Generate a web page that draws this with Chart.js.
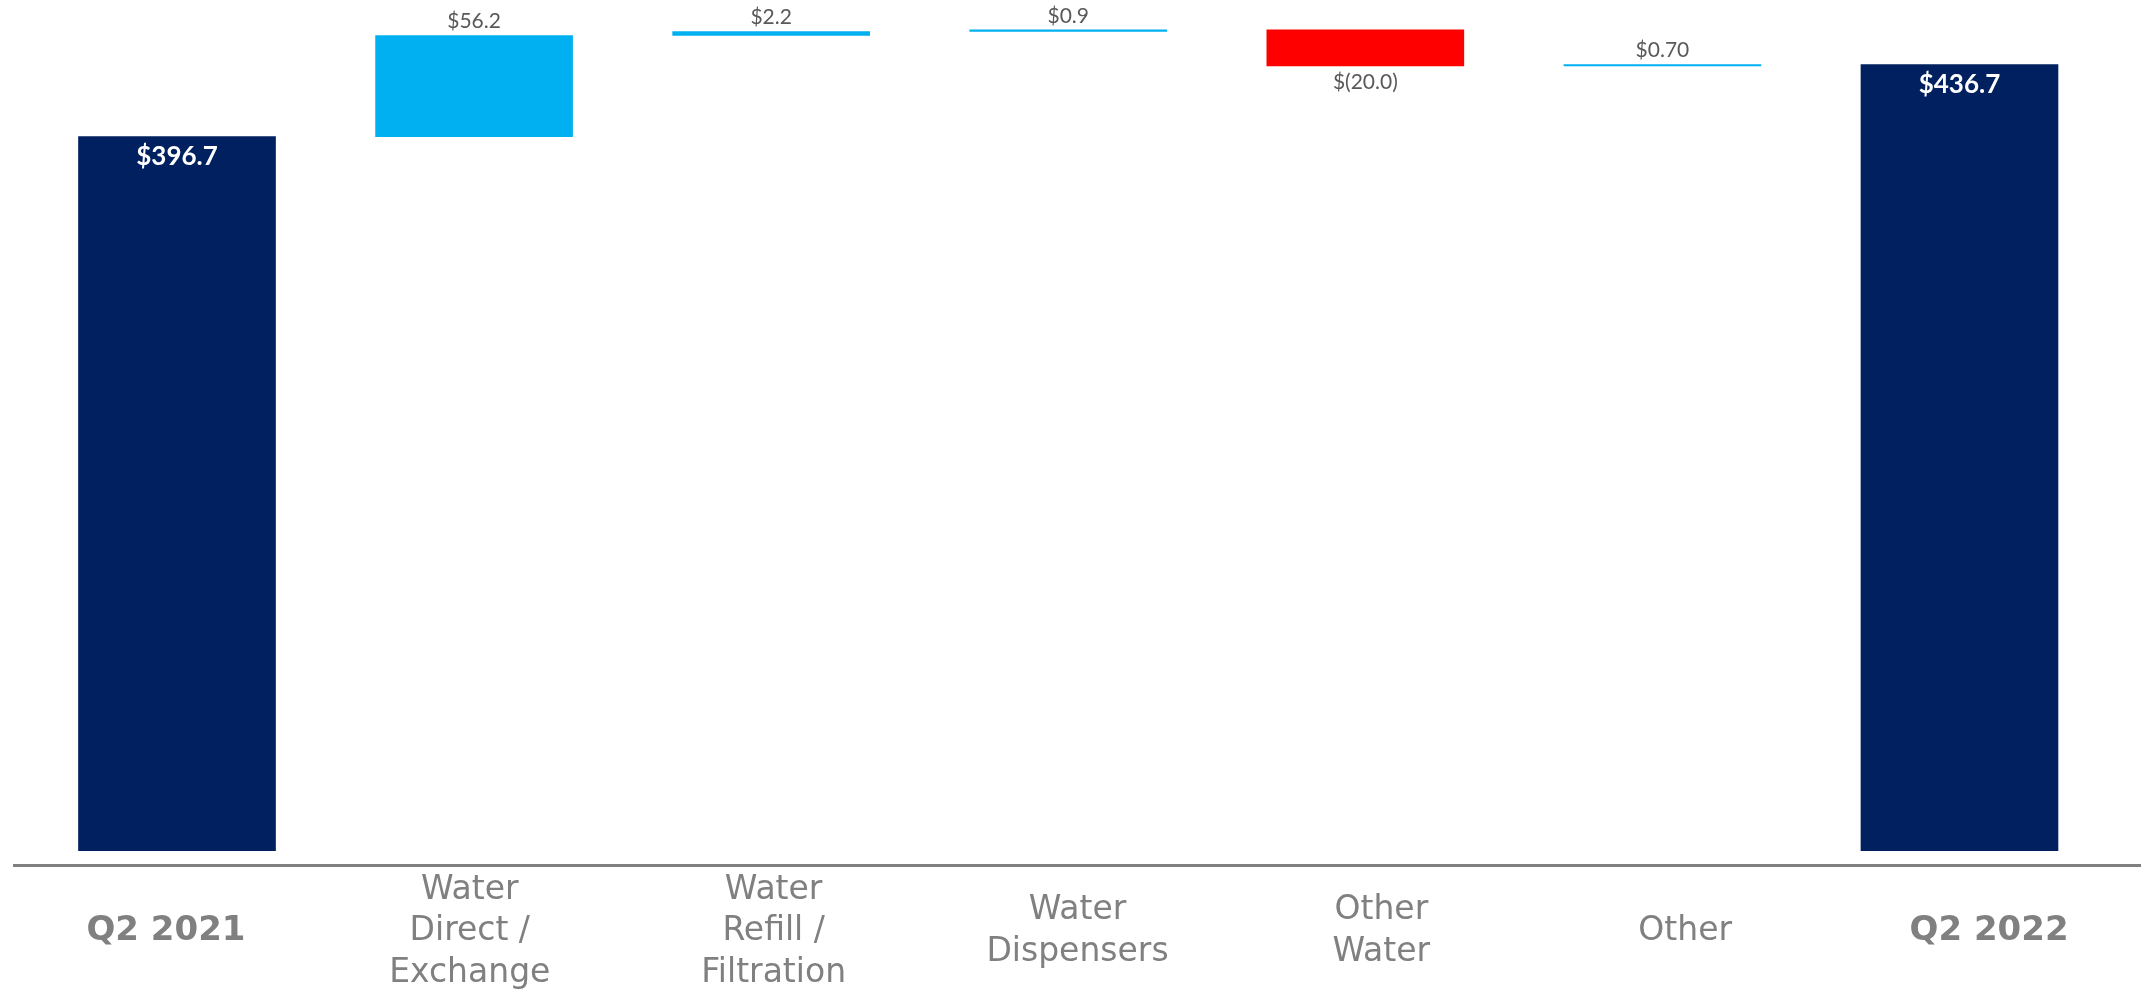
<!DOCTYPE html>
<html lang="en">
<head>
    <meta charset="UTF-8">
    <title>Q2 2021 to Q2 2022 Revenue Bridge</title>
    <script src="https://cdn.jsdelivr.net/npm/chart.js"></script>
    <style>
        html, body { margin: 0; padding: 0; background: #ffffff; }
        #chartContainer { position: relative; width: 2141px; height: 990px; }
    </style>
</head>
<body>
    <div id="chartContainer">
        <canvas id="bridgeChart"></canvas>
    </div>

    <script>
        // Bridge data ($M)
        const categories = [
            ['Q2 2021'],
            ['Water', 'Direct /', 'Exchange'],
            ['Water', 'Refill /', 'Filtration'],
            ['Water', 'Dispensers'],
            ['Other', 'Water'],
            ['Other'],
            ['Q2 2022']
        ];
        const values = [396.7, 56.2, 2.2, 0.9, -20.0, 0.70, 436.7];
        const isTotal = [true, false, false, false, false, false, true];
        const valueLabels = ['$396.7', '$56.2', '$2.2', '$0.9', '$(20.0)', '$0.70', '$436.7'];

        const NAVY = '#002060';
        const UP = '#00B0F0';
        const DOWN = '#FF0000';
        const AXIS_GREY = '#808080';

        // build floating bar ranges from the running total
        let running = 0;
        const bars = values.map((v, i) => {
            let range;
            if (isTotal[i]) {
                range = [0, v];
                running = v;
            } else {
                range = [running, running + v];
                running += v;
            }
            return { x: i, y: range };
        });
        const barColors = values.map((v, i) => isTotal[i] ? NAVY : (v < 0 ? DOWN : UP));

        const valueLabelPlugin = {
            id: 'valueLabels',
            afterDatasetsDraw(chart) {
                const ctx = chart.ctx;
                const meta = chart.getDatasetMeta(0);
                ctx.save();
                ctx.textAlign = 'center';
                ctx.textBaseline = 'middle';
                meta.data.forEach((bar, i) => {
                    const p = bar.getProps(['x', 'y', 'base'], true);
                    const top = Math.min(p.y, p.base);
                    const bottom = Math.max(p.y, p.base);
                    if (isTotal[i]) {
                        ctx.font = 'bold 26px Lato';
                        ctx.fillStyle = '#ffffff';
                        ctx.fillText(valueLabels[i], p.x, top + 20);
                    } else if (values[i] < 0) {
                        ctx.font = '21px Lato';
                        ctx.fillStyle = '#595959';
                        ctx.fillText(valueLabels[i], p.x, bottom + 16);
                    } else {
                        ctx.font = '21px Lato';
                        ctx.fillStyle = '#595959';
                        ctx.fillText(valueLabels[i], p.x, top - 14);
                    }
                });
                ctx.restore();
            }
        };

        window.addEventListener('load', function() {
            const ctx = document.getElementById('bridgeChart').getContext('2d');
            new Chart(ctx, {
                type: 'bar',
                data: {
                    labels: categories,
                    datasets: [{
                        data: bars,
                        xAxisID: 'xb',
                        yAxisID: 'y',
                        backgroundColor: barColors,
                        borderWidth: 0,
                        barThickness: 197
                    }]
                },
                options: {
                    responsive: true,
                    maintainAspectRatio: false,
                    animation: false,
                    layout: { padding: { left: 14, right: 0, top: 0, bottom: 0 } },
                    plugins: {
                        legend: { display: false },
                        tooltip: { enabled: false }
                    },
                    scales: {
                        x: {
                            type: 'category',
                            offset: true,
                            grid: { display: false, drawTicks: false },
                            border: { display: true, color: AXIS_GREY, width: 3 },
                            afterFit: function(scale) { scale.height = 125; },
                            ticks: {
                                color: AXIS_GREY,
                                padding: 25,
                                crossAlign: 'center',
                                maxRotation: 0,
                                autoSkip: false,
                                font: function(c) {
                                    const bold = isTotal[c.index];
                                    return {
                                        family: 'DejaVu Sans',
                                        size: bold ? 34 : 33,
                                        weight: bold ? 'bold' : 'normal',
                                        lineHeight: 1.26
                                    };
                                }
                            }
                        },
                        xb: {
                            type: 'linear',
                            display: false,
                            offset: false,
                            min: -0.5487,
                            max: 6.611
                        },
                        y: {
                            display: false,
                            min: -7.94,
                            max: 472.6
                        }
                    }
                },
                plugins: [valueLabelPlugin]
            });
        });
    </script>
</body>
</html>
